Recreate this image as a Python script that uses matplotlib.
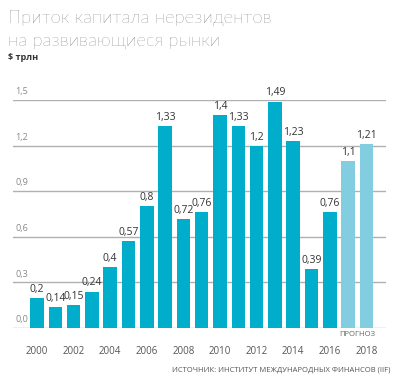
import matplotlib.pyplot as plt

# Данные
years = list(range(2000, 2019))
values = [0.2, 0.14, 0.15, 0.24, 0.4, 0.57, 0.8, 1.33, 0.72, 0.76,
          1.4, 1.33, 1.2, 1.49, 1.23, 0.39, 0.76, 1.1, 1.21]
forecast_years = [2017, 2018]
y_ticks = [0.0, 0.3, 0.6, 0.9, 1.2, 1.5]
year_labels = [2000, 2002, 2004, 2006, 2008, 2010, 2012, 2014, 2016, 2018]

main_color = '#00aecb'
forecast_color = '#82cde0'

plt.rcParams['font.family'] = ['Open Sans', 'DejaVu Sans']

fig = plt.figure(figsize=(4.02, 3.80), dpi=100)
ax = fig.add_axes([13 / 402, 52 / 380, 373 / 402, 228 / 380])

x = list(range(len(years)))
colors = [forecast_color if y in forecast_years else main_color for y in years]
ax.bar(x, values, width=0.74, color=colors, zorder=3)

for i, v in zip(x, values):
    ax.text(i, v + 0.02, f'{v:g}'.replace('.', ','), ha='center', va='bottom',
            fontsize=7.5, color='#333333', zorder=4)

for t in y_ticks:
    ax.axhline(t, color='#b0b0b0', lw=1.0, zorder=1)
    ax.text(-1.2, t + 0.025, f'{t:.1f}'.replace('.', ','), ha='left', va='bottom',
            fontsize=6.5, color='#888888')

ax.set_xlim(-1.31, 19.07)
ax.set_ylim(0, 1.5)
for s in ax.spines.values():
    s.set_visible(False)
ax.set_yticks([])
ax.set_xticks([years.index(y) for y in year_labels])
ax.set_xticklabels([str(y) for y in year_labels], fontsize=7, color='#555555')
ax.tick_params(axis='x', length=0, pad=13)

# ПРОГНОЗ под прогнозными столбцами
ax.text(17.5, -0.02, 'ПРОГНОЗ', ha='center', va='top', fontsize=5.5,
        color='#666666')

title_font = ['Lato', 'DejaVu Sans']
fig.text(8 / 402, 1 - 18 / 380, 'Приток капитала нерезидентов', fontsize=13.3,
         family=title_font, fontweight='light', color='#444444',
         va='center', ha='left')
fig.text(8 / 402, 1 - 41 / 380, 'на развивающиеся рынки', fontsize=13.3,
         family=title_font, fontweight='light', color='#444444',
         va='center', ha='left')
fig.text(8 / 402, 1 - 57 / 380, '$ трлн', fontsize=6.5, fontweight='bold',
         color='#333333', va='center', ha='left')
fig.text(391 / 402, 1 - 370 / 380, 'ИСТОЧНИК: ИНСТИТУТ МЕЖДУНАРОДНЫХ ФИНАНСОВ (IIF)',
         fontsize=5.5, color='#555555', va='center', ha='right')

fig.savefig('out.png', dpi=100)
